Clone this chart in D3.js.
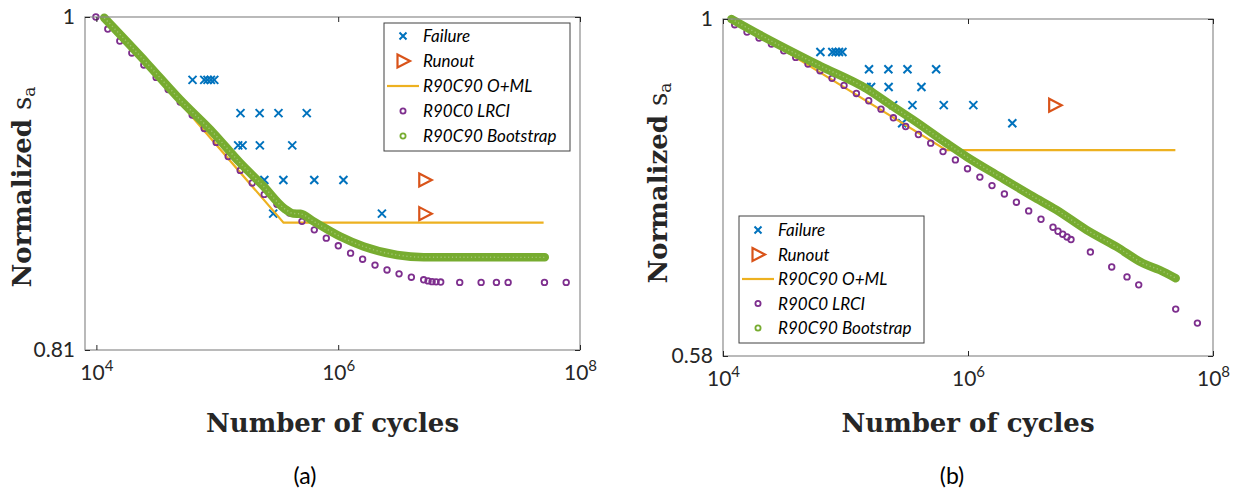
<!DOCTYPE html>
<html>
<head>
<meta charset="utf-8">
<script src="https://cdn.jsdelivr.net/npm/d3@7"></script>
<style>
  html, body { margin: 0; padding: 0; background: #ffffff; }
  svg { display: block; }
</style>
</head>
<body>
<svg id="chart" width="1239" height="495"></svg>
<script>
// ---- Test data: fatigue results (shared cycle counts, per-panel normalisation) ----
const failureCycles = [62400, 78000, 83000, 88500, 94400,
                       155600, 223900, 320600, 549500,
                       148900, 161800, 224900, 416900,
                       245000, 352000, 634000, 1105000,
                       290000, 2300000];
const failureLevelIndex = [0, 0, 0, 0, 0, 1, 1, 1, 1, 2, 2, 2, 2, 3, 3, 3, 3, 4, 4];
const stressLevelsA = [0.961, 0.941, 0.922, 0.902, 0.883];
const stressLevelsB = [0.948, 0.922, 0.896, 0.870, 0.845];

const runoutCyclesA = [5200000, 5200000];
const runoutLevelsA = [0.902, 0.883];
const runoutCyclesB = [5100000];
const runoutLevelsB = [0.870];

// R90C90 O+ML design curves
const omlCyclesA = [12000, 353000, 50000000];
const omlLevelsA = [1.0, 0.878, 0.878];
const omlCyclesB = [12070, 666000, 49300000];
const omlLevelsB = [1.0, 0.809, 0.809];

// R90C0 LRCI curves
const lrciCyclesA = [9900, 12430, 15620, 19640, 24690, 31200, 39230, 49310, 61980, 77910,
                     97920, 123100, 154700, 194500, 244500, 311400, 396000, 501600, 634200, 797000,
                     1002000, 1266000, 1592000, 2016000, 2535000, 3187000, 4029000, 5093000, 5538000, 5977000,
                     6450000, 7043000, 10120000, 15210000, 20360000, 25440000, 50830000, 76880000];
const lrciLevelsA = [1.000, 0.9924, 0.9849, 0.9775, 0.9701, 0.9625, 0.9552, 0.9476, 0.9398, 0.9319,
                     0.9237, 0.9155, 0.9075, 0.9003, 0.8938, 0.8882, 0.8833, 0.8787, 0.8740, 0.8694,
                     0.8652, 0.8612, 0.8579, 0.8547, 0.8521, 0.8500, 0.8482, 0.8468, 0.8462, 0.8458,
                     0.8457, 0.8456, 0.8454, 0.8454, 0.8454, 0.8454, 0.8454, 0.8454];
const lrciCyclesB = [12460, 15700, 19680, 24850, 31300, 39230, 49420, 61930, 77600, 97230,
                     122700, 154700, 194900, 246000, 309900, 393700, 496000, 625200, 789000, 990600,
                     1250000, 1570000, 1982000, 2484000, 3129000, 3943000, 4942000, 5429000, 5932000, 6430000,
                     6931000, 9980000, 14900000, 19860000, 24750000, 49610000, 74600000];
const lrciLevelsB = [0.9908, 0.9792, 0.9697, 0.9604, 0.9500, 0.9398, 0.9298, 0.9198, 0.9085, 0.8982,
                     0.8866, 0.8762, 0.8644, 0.8524, 0.8405, 0.8297, 0.8182, 0.8071, 0.7963, 0.7851,
                     0.7745, 0.7639, 0.7537, 0.7437, 0.7333, 0.7235, 0.7142, 0.7096, 0.7062, 0.7031,
                     0.7001, 0.6861, 0.6698, 0.6591, 0.6507, 0.6257, 0.6117];

// R90C90 bootstrap curves
const bootCyclesA = [11600, 26100, 49300, 93000, 154700, 241300, 358000, 424600, 485800, 625800,
                     1041000, 1623000, 3068000, 5093000, 51130000];
const bootLevelsA = [0.9995, 0.9713, 0.9490, 0.9292, 0.9118, 0.8984, 0.8859, 0.8831, 0.8829, 0.8787,
                     0.8703, 0.8648, 0.8602, 0.8590, 0.8589];
const bootCyclesB = [11710, 19930, 61580, 148100, 244200, 355600, 666000, 970200, 1815000, 3394000,
                     5266000, 9260000, 16270000, 26830000, 36720000, 49610000];
const bootLevelsB = [1.0, 0.9749, 0.9273, 0.8935, 0.8681, 0.8497, 0.8182, 0.8006, 0.7750, 0.7506,
                     0.7345, 0.7112, 0.6921, 0.6738, 0.6665, 0.6577];

// Axis ticks
const xTickExponents = [4, 6, 8];
const yTicksA = [0.81, 1];
const yTicksB = [0.58, 1];

const legendLabels = ["Failure", "Runout", "R90C90 O+ML", "R90C0 LRCI", "R90C90 Bootstrap"];
const panelLabels = ["(a)", "(b)"];

// ---- Styling ----
const C = {
  failure: "#0072bd",
  runout: "#d95319",
  oml: "#edb120",
  lrci: "#7e2f8e",
  boot: "#77ac30",
  axis: "#8c8c8c",
  tick: "#262626",
  text: "#262626"
};
const tickFont = "Lato, 'Open Sans', sans-serif";
const titleFont = "'DejaVu Serif', serif";

const svg = d3.select("#chart");

function zip(xs, ys) { return xs.map((x, i) => ({ x, y: ys[i] })); }

function drawPanel(cfg) {
  const x = d3.scaleLog().domain(cfg.xDomain).range([cfg.left, cfg.right]);
  const y = d3.scaleLog().domain(cfg.yDomain).range([cfg.bottom, cfg.top]);
  const g = svg.append("g");

  // clip to the axes box
  const clipId = "clip-" + cfg.id;
  g.append("clipPath").attr("id", clipId)
    .append("rect")
    .attr("x", cfg.left - 6).attr("y", cfg.top - 6)
    .attr("width", cfg.right - cfg.left + 12).attr("height", cfg.bottom - cfg.top + 12);

  const plot = g.append("g").attr("clip-path", `url(#${clipId})`);

  // Failure markers (x)
  const failures = failureCycles.map((c, i) => ({ x: c, y: cfg.levels[failureLevelIndex[i]] }));
  const s = 4;
  plot.append("g").selectAll("path").data(failures).join("path")
    .attr("d", d => {
      const px = x(d.x), py = y(d.y);
      return `M${px - s},${py - s}L${px + s},${py + s}M${px - s},${py + s}L${px + s},${py - s}`;
    })
    .attr("stroke", C.failure).attr("stroke-width", 2).attr("fill", "none");

  // Runout markers (right-pointing triangle)
  plot.append("g").selectAll("path").data(zip(cfg.runoutCycles, cfg.runoutLevels)).join("path")
    .attr("d", d => {
      const px = x(d.x), py = y(d.y);
      return `M${px - 5.5},${py - 6.5}L${px + 7},${py}L${px - 5.5},${py + 6.5}Z`;
    })
    .attr("stroke", C.runout).attr("stroke-width", 2.2).attr("fill", "none")
    .attr("stroke-linejoin", "miter");

  // O+ML curve
  const line = d3.line().x(d => x(d.x)).y(d => y(d.y));
  plot.append("path").datum(zip(cfg.omlCycles, cfg.omlLevels))
    .attr("d", line).attr("fill", "none")
    .attr("stroke", C.oml).attr("stroke-width", 2.2);

  // LRCI circles
  plot.append("g").selectAll("circle").data(zip(cfg.lrciCycles, cfg.lrciLevels)).join("circle")
    .attr("cx", d => x(d.x)).attr("cy", d => y(d.y)).attr("r", 2.8)
    .attr("fill", "none").attr("stroke", C.lrci).attr("stroke-width", 1.8);

  // Bootstrap: dense band of circle markers drawn as a thick stroke
  const bootLine = d3.line().x(d => x(d.x)).y(d => y(d.y)).curve(d3.curveMonotoneX);
  const bootData = zip(cfg.bootCycles, cfg.bootLevels);
  plot.append("path").datum(bootData)
    .attr("d", bootLine).attr("fill", "none")
    .attr("stroke", C.boot).attr("stroke-width", 8.5)
    .attr("stroke-linecap", "round").attr("stroke-linejoin", "round");
  plot.append("path").datum(bootData)
    .attr("d", bootLine).attr("fill", "none")
    .attr("stroke", "#ffffff").attr("stroke-opacity", 0.3).attr("stroke-width", 1.4)
    .attr("stroke-dasharray", "1.2,2.6");

  // Axes box
  g.append("rect")
    .attr("x", cfg.left).attr("y", cfg.top)
    .attr("width", cfg.right - cfg.left).attr("height", cfg.bottom - cfg.top)
    .attr("fill", "none").attr("stroke", C.axis).attr("stroke-width", 1.2);

  const xTicks = xTickExponents.map(e => Math.pow(10, e));

  // bottom axis (ticks point inward)
  const bottomAxis = d3.axisBottom(x).tickValues(xTicks).tickSizeInner(-5).tickSizeOuter(0).tickPadding(14);
  const bx = g.append("g").attr("transform", `translate(0,${cfg.bottom})`).call(bottomAxis);
  bx.select(".domain").remove();
  bx.selectAll(".tick line").attr("stroke", C.tick);
  bx.selectAll(".tick text").each(function(d) {
    const t = d3.select(this);
    t.text(null)
      .attr("font-family", tickFont).attr("font-size", 21).attr("fill", C.text)
      .attr("text-anchor", "middle").attr("dy", "0.75em").attr("y", 14);
    t.append("tspan").text("10");
    t.append("tspan").text(Math.round(Math.log10(d))).attr("font-size", 15).attr("dy", -9);
  });

  // top axis ticks only
  const tx = g.append("g").attr("transform", `translate(0,${cfg.top})`)
    .call(d3.axisTop(x).tickValues(xTicks).tickSizeInner(-5).tickSizeOuter(0).tickFormat(""));
  tx.select(".domain").remove();
  tx.selectAll(".tick line").attr("stroke", C.tick);

  // left axis
  const leftAxis = d3.axisLeft(y).tickValues(cfg.yTicks).tickSizeInner(-5).tickSizeOuter(0)
    .tickPadding(10).tickFormat(d => String(d));
  const lx = g.append("g").attr("transform", `translate(${cfg.left},0)`).call(leftAxis);
  lx.select(".domain").remove();
  lx.selectAll(".tick line").attr("stroke", C.tick);
  lx.selectAll(".tick text")
    .attr("font-family", tickFont).attr("font-size", 21).attr("fill", C.text);

  // right axis ticks only
  const rx = g.append("g").attr("transform", `translate(${cfg.right},0)`)
    .call(d3.axisRight(y).tickValues(cfg.yTicks).tickSizeInner(-5).tickSizeOuter(0).tickFormat(""));
  rx.select(".domain").remove();
  rx.selectAll(".tick line").attr("stroke", C.tick);

  // axis titles
  g.append("text")
    .attr("x", (cfg.left + cfg.right) / 2).attr("y", cfg.xTitleY)
    .attr("text-anchor", "middle")
    .attr("font-family", titleFont).attr("font-weight", "bold").attr("font-size", 26)
    .attr("fill", C.text).text("Number of cycles");

  const yt = g.append("text")
    .attr("transform", `translate(${cfg.yTitleX},${cfg.yTitleY}) rotate(-90)`)
    .attr("text-anchor", "middle")
    .attr("font-family", titleFont).attr("font-size", 26).attr("fill", C.text);
  yt.append("tspan").attr("font-weight", "bold").text("Normalized ");
  yt.append("tspan").text("s");
  yt.append("tspan").attr("font-size", 17).attr("dy", 4).text("a");

  // panel label
  g.append("text")
    .attr("x", cfg.labelX).attr("y", 484)
    .attr("text-anchor", "middle")
    .attr("font-family", "Lato, 'Open Sans', sans-serif").attr("font-size", 23)
    .attr("fill", "#000").text(cfg.label);

  // legend
  const L = cfg.legend;
  const lg = g.append("g");
  lg.append("rect")
    .attr("x", L.x).attr("y", L.y).attr("width", L.w).attr("height", L.h)
    .attr("fill", "#ffffff").attr("stroke", "#404040").attr("stroke-width", 1);
  legendLabels.forEach((lab, i) => {
    const cy = L.y + L.firstRow + i * L.rowGap;
    const mx = L.x + 19;
    if (i === 0) {
      lg.append("path")
        .attr("d", `M${mx - 3.5},${cy - 3.5}L${mx + 3.5},${cy + 3.5}M${mx - 3.5},${cy + 3.5}L${mx + 3.5},${cy - 3.5}`)
        .attr("stroke", C.failure).attr("stroke-width", 2).attr("fill", "none");
    } else if (i === 1) {
      lg.append("path")
        .attr("d", `M${mx - 5.5},${cy - 6.5}L${mx + 7},${cy}L${mx - 5.5},${cy + 6.5}Z`)
        .attr("stroke", C.runout).attr("stroke-width", 2.2).attr("fill", "none");
    } else if (i === 2) {
      lg.append("line")
        .attr("x1", L.x + 3).attr("x2", L.x + 35).attr("y1", cy).attr("y2", cy)
        .attr("stroke", C.oml).attr("stroke-width", 2.2);
    } else {
      lg.append("circle").attr("cx", mx).attr("cy", cy).attr("r", 2.6)
        .attr("fill", "none").attr("stroke", i === 3 ? C.lrci : C.boot).attr("stroke-width", 1.8);
    }
    lg.append("text")
      .attr("x", L.x + 39).attr("y", cy).attr("dy", "0.36em")
      .attr("font-family", "Lato, 'Open Sans', sans-serif").attr("font-style", "italic")
      .attr("font-size", 17).attr("fill", "#000").text(lab);
  });
}

drawPanel({
  id: "a", label: panelLabels[0], labelX: 305,
  left: 85, right: 580, top: 17, bottom: 350,
  xDomain: [8050, 1e8], yDomain: [0.81, 1], yTicks: yTicksA,
  levels: stressLevelsA,
  runoutCycles: runoutCyclesA, runoutLevels: runoutLevelsA,
  omlCycles: omlCyclesA, omlLevels: omlLevelsA,
  lrciCycles: lrciCyclesA, lrciLevels: lrciLevelsA,
  bootCycles: bootCyclesA, bootLevels: bootLevelsA,
  xTitleY: 432, yTitleX: 31, yTitleY: 187,
  legend: { x: 384, y: 23, w: 186, h: 128, firstRow: 13, rowGap: 25 }
});

drawPanel({
  id: "b", label: panelLabels[1], labelX: 952,
  left: 723, right: 1213, top: 19, bottom: 356,
  xDomain: [1e4, 1e8], yDomain: [0.58, 1], yTicks: yTicksB,
  levels: stressLevelsB,
  runoutCycles: runoutCyclesB, runoutLevels: runoutLevelsB,
  omlCycles: omlCyclesB, omlLevels: omlLevelsB,
  lrciCycles: lrciCyclesB, lrciLevels: lrciLevelsB,
  bootCycles: bootCyclesB, bootLevels: bootLevelsB,
  xTitleY: 432, yTitleX: 667, yTitleY: 183,
  legend: { x: 739, y: 216, w: 185, h: 127, firstRow: 14, rowGap: 24.5 }
});
</script>
</body>
</html>
